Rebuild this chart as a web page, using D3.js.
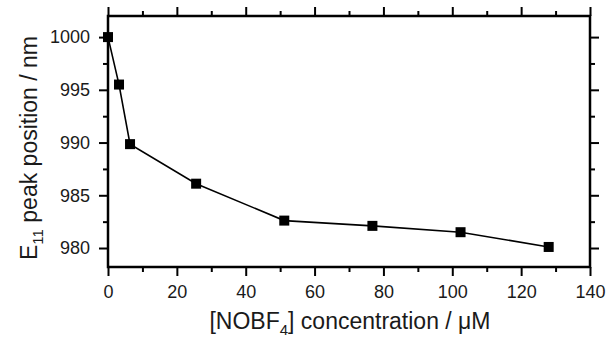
<!DOCTYPE html>
<html><head><meta charset="utf-8">
<script src="https://cdn.jsdelivr.net/npm/d3@7"></script>
<style>body{margin:0;background:#fff}svg{display:block}</style>
</head><body>
<svg id="c" width="611" height="343"></svg>
<script>
const concentration = [0, 3.2, 6.4, 25.6, 51.2, 76.8, 102.4, 128];
const peakPosition = [1000, 995.5, 989.85, 986.1, 982.6, 982.1, 981.5, 980.1];
const xTicks = [0, 20, 40, 60, 80, 100, 120, 140];
const yTicks = [980, 985, 990, 995, 1000];
const xMinor = [10, 30, 50, 70, 90, 110, 130];
const yMinor = [982.5, 987.5, 992.5, 997.5];

const svg = d3.select("#c");
const L = 108, R = 590, T = 16, B = 267;
const x = d3.scaleLinear().domain([0, 140]).range([L, R]);
const y = d3.scaleLinear().domain([978.2, 1002]).range([B, T]);
const font = "'Liberation Sans', Arial, sans-serif";

function styleAxis(g, labels) {
  g.select(".domain").remove();
  g.selectAll(".tick line").attr("stroke", "#000").attr("stroke-width", 2);
  g.selectAll("text").attr("font-family", font).attr("font-size", 18).attr("fill", "#1a1a1a");
  if (!labels) g.selectAll("text").remove();
}
// major ticks
const gB = svg.append("g").attr("transform", `translate(0,${B})`)
  .call(d3.axisBottom(x).tickValues(xTicks).tickSize(9).tickPadding(9).tickFormat(d3.format("d")));
styleAxis(gB, true);
const gT = svg.append("g").attr("transform", `translate(0,${T})`)
  .call(d3.axisTop(x).tickValues(xTicks).tickSize(9));
styleAxis(gT, false);
const gL = svg.append("g").attr("transform", `translate(${L},0)`)
  .call(d3.axisLeft(y).tickValues(yTicks).tickSize(9).tickPadding(9).tickFormat(d3.format("d")));
styleAxis(gL, true);
const gR = svg.append("g").attr("transform", `translate(${R},0)`)
  .call(d3.axisRight(y).tickValues(yTicks).tickSize(9));
styleAxis(gR, false);
// minor ticks
[[d3.axisBottom(x).tickValues(xMinor), `translate(0,${B})`],
 [d3.axisTop(x).tickValues(xMinor), `translate(0,${T})`],
 [d3.axisLeft(y).tickValues(yMinor), `translate(${L},0)`],
 [d3.axisRight(y).tickValues(yMinor), `translate(${R},0)`]].forEach(([ax, tr]) => {
  const g = svg.append("g").attr("transform", tr).call(ax.tickSize(5));
  styleAxis(g, false);
});
// frame
svg.append("rect").attr("x", L).attr("y", T).attr("width", R - L).attr("height", B - T)
  .attr("fill", "none").attr("stroke", "#000").attr("stroke-width", 2.5);

// line
const pts = concentration.map((c, i) => [c, peakPosition[i]]);
svg.append("path").datum(pts)
  .attr("d", d3.line().x(d => x(d[0])).y(d => y(d[1])))
  .attr("fill", "none").attr("stroke", "#000").attr("stroke-width", 1.6);
const s = 10;
svg.append("g").selectAll("rect").data(pts).join("rect")
  .attr("x", d => x(d[0]) - s / 2).attr("y", d => y(d[1]) - s / 2)
  .attr("width", s).attr("height", s).attr("fill", "#000");

// titles
const xt = svg.append("text").attr("x", 350).attr("y", 329)
  .attr("text-anchor", "middle").attr("font-family", font).attr("font-size", 23).attr("fill", "#1a1a1a");
xt.append("tspan").text("[NOBF");
xt.append("tspan").text("4").attr("font-size", 15).attr("dy", 6);
xt.append("tspan").text("] concentration / μM").attr("dy", -6);

const yt = svg.append("text").attr("transform", `translate(37,148) rotate(-90)`)
  .attr("text-anchor", "middle").attr("font-family", font).attr("font-size", 23).attr("fill", "#1a1a1a");
yt.append("tspan").text("E");
yt.append("tspan").text("11").attr("font-size", 15).attr("dy", 6);
yt.append("tspan").text(" peak position / nm").attr("dy", -6);
</script>
</body></html>
